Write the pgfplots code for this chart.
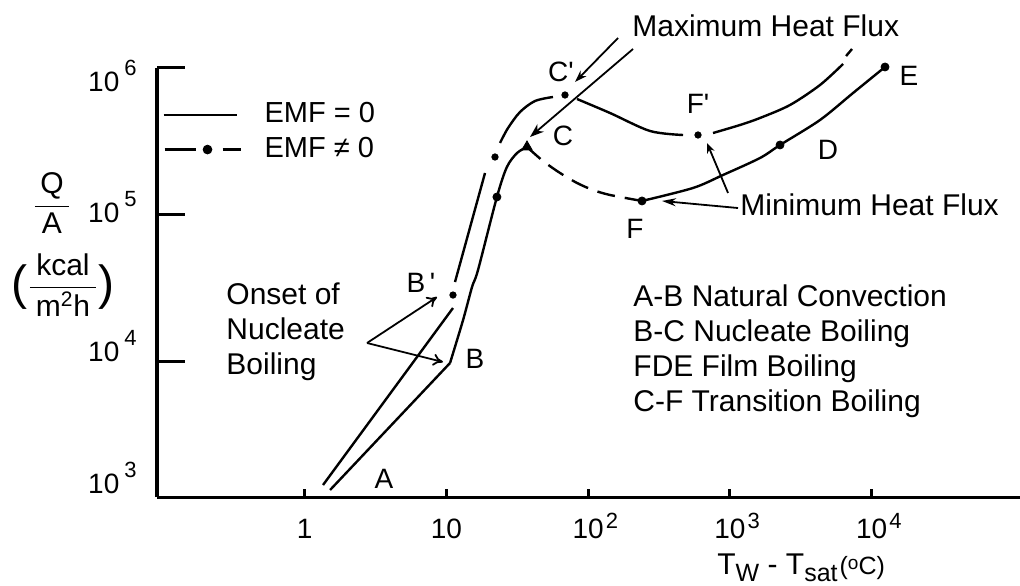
\documentclass[border=0pt]{standalone}
\usepackage{amsmath}
\usepackage{fontspec}
\setmainfont{Liberation Sans}
\usepackage{pgfplots}
\pgfplotsset{compat=1.18}
\usetikzlibrary{arrows.meta}

\newcommand\fs[1]{\fontsize{#1}{#1}\selectfont}
% decade tick labels: mantissa 10 with a raised exponent
\newcommand\xdec[1]{10\rlap{\hspace{1pt}\raisebox{5pt}{\fs{11}#1}}}
\newcommand\ydec[2]{\raisebox{#2}{10\hspace{2.5pt}\raisebox{8pt}{\fs{11}#1}}}

\begin{document}
\fs{15}%
\begin{tikzpicture}
\useasboundingbox (0,0) rectangle (510pt,292.5pt);
\begin{axis}[
  at={(78.5pt,44pt)}, anchor=south west,
  scale only axis, width=431.5pt, height=214.5pt,
  xmode=log, ymode=log,
  xmin=0.0908, xmax=111200, ymin=1179.6, ymax=1e6,
  axis x line*=bottom, axis y line*=left,
  axis line style={line width=1.5pt, -},
  clip=false,
  xtick={1,10,100,1000,10000},
  xticklabels={1,10,\xdec{2},\xdec{3},\xdec{4}},
  ytick={1179.6,1e4,1e5,1e6},
  yticklabels={\ydec{3}{2pt},\ydec{4}{0pt},\ydec{5}{-4pt},\ydec{6}{-12pt}},
  xminorticks=false, yminorticks=false,
  tick align=inside,
  major tick length=4pt,
  ytick style={/pgfplots/major tick length=14pt},
  tick style={line width=1.5pt, black},
  xticklabel style={anchor=base, inner sep=0pt, yshift=-20.5pt, font=\fs{14}},
  yticklabel style={anchor=base east, inner sep=0pt, xshift=-10pt, font=\fs{14}},
  legend style={at={(0.0058,0.93)}, anchor=north west, draw=none, fill=none,
    inner sep=0pt, row sep=1pt, column sep=9.5pt, font=\fs{14.5}, cells={anchor=west}},
  legend cell align=left,
]
% legend entries
\addlegendimage{legend image code/.code={\draw[line width=1.1pt] (0pt,0pt) -- (36.5pt,0pt);}}
\addlegendentry{EMF = 0}
\addlegendimage{legend image code/.code={
  \draw[line width=1.1pt] (0.5pt,0pt) -- (16pt,0pt);
  \fill (22pt,0pt) circle (2.2pt);
  \draw[line width=1.1pt] (29.5pt,0pt) -- (38.5pt,0pt);}}
\addlegendentry{EMF ≠ 0}

% ---- EMF = 0 : natural convection A-B
\addplot[line width=1.2pt, forget plot] coordinates {(1.51,1317) (10.6,9690)};
% nucleate boiling B-C
\addplot[line width=1.2pt, smooth, forget plot] coordinates {
  (10.6,9690) (13.1,19050) (15.15,32000) (16.7,41800) (22.7,131700)
  (26.7,211000) (31.5,263000) (37.0,289000)};
% transition boiling C-F
\addplot[line width=1.2pt, smooth, dash pattern=on 9pt off 5pt, forget plot] coordinates {
  (37.0,289000) (48.0,231800) (63.3,192000) (83.4,164100) (108.1,147000)
  (142.5,135900) (239.6,123700)};
% film boiling F-D-E
\addplot[line width=1.2pt, smooth, forget plot] coordinates {
  (239.6,123700) (548.6,151700) (893,186100) (1629,243000) (2255,298200)
  (4318,441700) (7383,675000) (12410,1016000)};
\addplot[only marks, mark=*, mark size=2pt, forget plot] coordinates {
  (22.7,131700) (239.6,123700) (2255,298200) (12410,1016000)};
\addplot[only marks, mark=triangle*, mark size=3pt, forget plot] coordinates {(37.0,289000)};

% ---- EMF != 0 : dash-dot curve
\addplot[line width=1.2pt, forget plot] coordinates {(1.346,1424) (11.12,23000)};
\addplot[line width=1.2pt, forget plot] coordinates {(11.49,34610) (18.71,192000)};
\addplot[line width=1.2pt, smooth, forget plot] coordinates {
  (23.86,307700) (27.19,389500) (33.03,500700) (42.14,595300) (56.45,634000)};
\addplot[line width=1.2pt, smooth, forget plot] coordinates {
  (83.37,614300) (142.5,493000) (272.9,371500) (466.5,348900)};
\addplot[line width=1.2pt, smooth, forget plot] coordinates {
  (759.5,360000) (1177,408200) (1629,455800) (2652,559000) (4318,765600) (6279,1065000)};
\addplot[line width=1.2pt, forget plot] coordinates {(6594,1207000) (7262,1348000)};
\addplot[only marks, mark=*, mark size=1.6pt, forget plot] coordinates {
  (11.12,28200) (22.0,246900) (68.6,654100) (595.2,348900)};

% ---- annotations
\draw[line width=0.9pt, -{Stealth[length=6pt,width=4pt]}] (axis cs:162.3,1.602e6) -- (axis cs:80.7,802500);
\draw[line width=0.9pt, -{Stealth[length=7pt,width=5pt]}] (axis cs:207.1,1.348e6) -- (axis cs:38.85,338100);
\draw[line width=0.9pt, -{Stealth[length=7pt,width=4pt]}] (axis cs:1140,110700) -- (axis cs:331.6,123700);
\draw[line width=0.9pt, -{Stealth[length=5pt,width=4pt]}] (axis cs:969,140300) -- (axis cs:688.7,307700);
\draw[line width=0.9pt, -{To[length=5pt,width=6pt]}] (axis cs:2.752,13270) -- (axis cs:8.578,27340);
\draw[line width=0.9pt, -{To[length=5pt,width=6pt]}] (axis cs:2.752,13270) -- (axis cs:9.456,9844);

\node[anchor=west, inner sep=0pt] at (axis cs:203.7,1.935e6) {Maximum Heat Flux};
\node[anchor=west, inner sep=0pt] at (axis cs:1177,116100) {Minimum Heat Flux};
\node[anchor=north west, inner sep=0pt, align=left, font=\fontsize{15}{17.5}\selectfont]
  at (axis cs:0.2786,34610) {Onset of\\Nucleate\\Boiling};
\node[anchor=north west, inner sep=0pt, align=left, font=\fontsize{15}{17.5}\selectfont]
  at (axis cs:207.1,33550) {A-B Natural Convection\\B-C Nucleate Boiling\\FDE Film Boiling\\C-F Transition Boiling};

% point letters
\begin{scope}[every node/.style={font=\fs{14}, inner sep=0pt}]
\node at (axis cs:3.626,1565) {A};
\node at (axis cs:15.90,10320) {B};
\node at (axis cs:6.614,34080) {B\,\textquotesingle};
\node at (axis cs:66.41,343400) {C};
\node at (axis cs:64.29,939000) {C\textquotesingle};
\node at (axis cs:213.9,79620) {F};
\node at (axis cs:595.2,568000) {F\textquotesingle};
\node at (axis cs:4917,275600) {D};
\node at (axis cs:18340,881700) {E};
\end{scope}

% axis titles
\node[anchor=base west, inner sep=0pt] at (axis cs:810.3,351.7)
  {T\raisebox{-3.5pt}{\fs{12.5}W} - T\raisebox{-3.5pt}{\fs{12.5}sat}\hspace{1pt}{\fs{12.5}(\raisebox{2.5pt}{\fs{9.5}o}C)}};
\node[inner sep=0pt] at (axis cs:0.01649,119800)
  {$\dfrac{\makebox[17pt]{Q}}{\makebox[17pt]{A}}$};
\node[inner sep=0pt] at (axis cs:0.01972,33030)
  {\raisebox{-2.5pt}{\fs{24}(}$\dfrac{\makebox[33pt]{kcal}}{\makebox[33pt]{m\textsuperscript{2}h}}$\raisebox{-2.5pt}{\fs{24})}};
\end{axis}
\end{tikzpicture}
\end{document}
